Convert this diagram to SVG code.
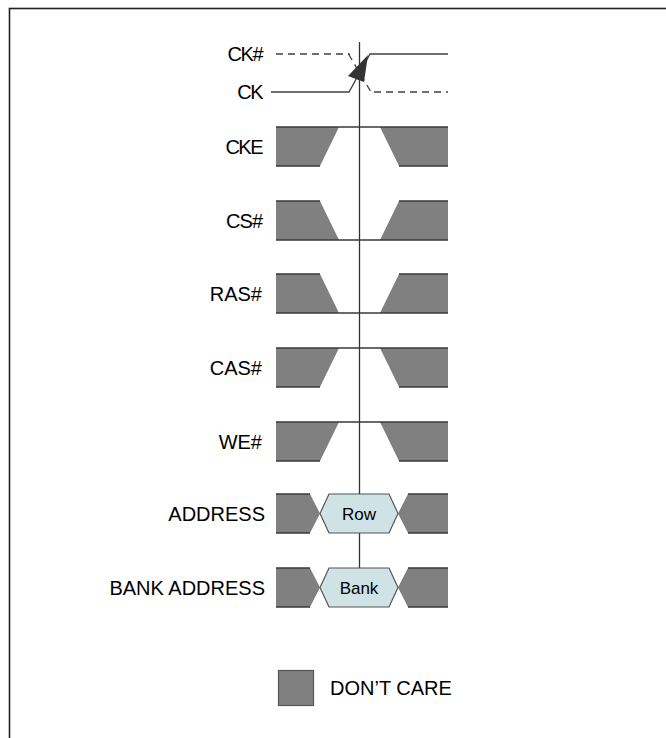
<svg xmlns="http://www.w3.org/2000/svg" width="666" height="738" viewBox="0 0 666 738">
<defs>
<style>
.lbl{font-family:"Liberation Sans",Arial,sans-serif;font-size:20px;fill:#000;text-anchor:end}
.bus{font-family:"Liberation Sans",Arial,sans-serif;font-size:17px;fill:#000;text-anchor:middle}
.leg{font-family:"Liberation Sans",Arial,sans-serif;font-size:20px;fill:#000}
.dc{fill:#808080;stroke:none}
.lv{fill:none;stroke:#3a3a3a;stroke-width:1.6}
.bx{fill:#cfe3e6;stroke:#555;stroke-width:1.2}
.bg{fill:#808080;stroke:#555;stroke-width:1.2}
.sig{fill:none;stroke:#404040;stroke-width:1.3}
.dash{fill:none;stroke:#404040;stroke-width:1.3;stroke-dasharray:7 5}
</style>
</defs>
<rect x="0" y="0" width="666" height="738" fill="#fff"/>
<rect x="9.5" y="8.5" width="700" height="800" fill="none" stroke="#222" stroke-width="1.6"/>

<g id="connectors">
<line x1="359.5" y1="42" x2="359.5" y2="580" stroke="#333" stroke-width="1.3"/>
</g>

<g id="ck">
<text class="lbl" x="262" y="61" letter-spacing="-1.5">CK#</text>
<text class="lbl" x="262" y="99" letter-spacing="-1.5">CK</text>
<path class="dash" d="M276,54 H350"/>
<path class="dash" d="M348.5,54 L371,92"/>
<path class="dash" d="M374,92 H448"/>
<path class="sig" d="M271,92 H349 L370,54 H448"/>
<polygon points="368,55 348,76 364,82" fill="#333"/>
</g>

<g id="cke">
<text class="lbl" x="262" y="154" letter-spacing="-1.5">CKE</text>
<path class="dc" d="M276,127 H339 L320,166 H276 Z M380,127 H448 V166 H399 Z"/>
<path class="lv" d="M276,127 H448 M276,166 H320 M399,166 H448"/>
</g>

<g id="cs">
<text class="lbl" x="262" y="228" letter-spacing="-1">CS#</text>
<path class="dc" d="M276,201 H320 L339,240 H276 Z M399,201 H448 V240 H380 Z"/>
<path class="lv" d="M276,201 H320 M399,201 H448 M276,240 H448"/>
</g>

<g id="ras">
<text class="lbl" x="262" y="301">RAS#</text>
<path class="dc" d="M276,274 H320 L339,313 H276 Z M399,274 H448 V313 H380 Z"/>
<path class="lv" d="M276,274 H320 M399,274 H448 M276,313 H448"/>
</g>

<g id="cas">
<text class="lbl" x="262" y="375">CAS#</text>
<path class="dc" d="M276,348 H339 L320,387 H276 Z M380,348 H448 V387 H399 Z"/>
<path class="lv" d="M276,348 H448 M276,387 H320 M399,387 H448"/>
</g>

<g id="we">
<text class="lbl" x="262" y="449">WE#</text>
<path class="dc" d="M276,422 H339 L320,461 H276 Z M380,422 H448 V461 H399 Z"/>
<path class="lv" d="M276,422 H448 M276,461 H320 M399,461 H448"/>
</g>

<g id="address">
<text class="lbl" x="265" y="521">ADDRESS</text>
<path class="dc" d="M276,494 H310 L320,513.5 L310,533 H276 Z M398,513.5 L408,494 H448 V533 H408 Z"/>
<path class="lv" d="M276,494 H310 M276,533 H310 M408,494 H448 M408,533 H448"/>
<polygon class="bx" points="320,513.5 329,494 389,494 398,513.5 389,533 329,533"/>
<text class="bus" x="359" y="519.5">Row</text>
</g>

<g id="bank">
<text class="lbl" x="265" y="595">BANK ADDRESS</text>
<path class="dc" d="M276,568 H310 L320,587.5 L310,607 H276 Z M398,587.5 L408,568 H448 V607 H408 Z"/>
<path class="lv" d="M276,568 H310 M276,607 H310 M408,568 H448 M408,607 H448"/>
<polygon class="bx" points="320,587.5 329,568 389,568 398,587.5 389,607 329,607"/>
<text class="bus" x="359" y="593.5">Bank</text>
</g>

<g id="legend">
<rect x="278.5" y="670.5" width="35" height="35" class="bg"/>
<text class="leg" x="330" y="695">DON’T CARE</text>
</g>
</svg>
